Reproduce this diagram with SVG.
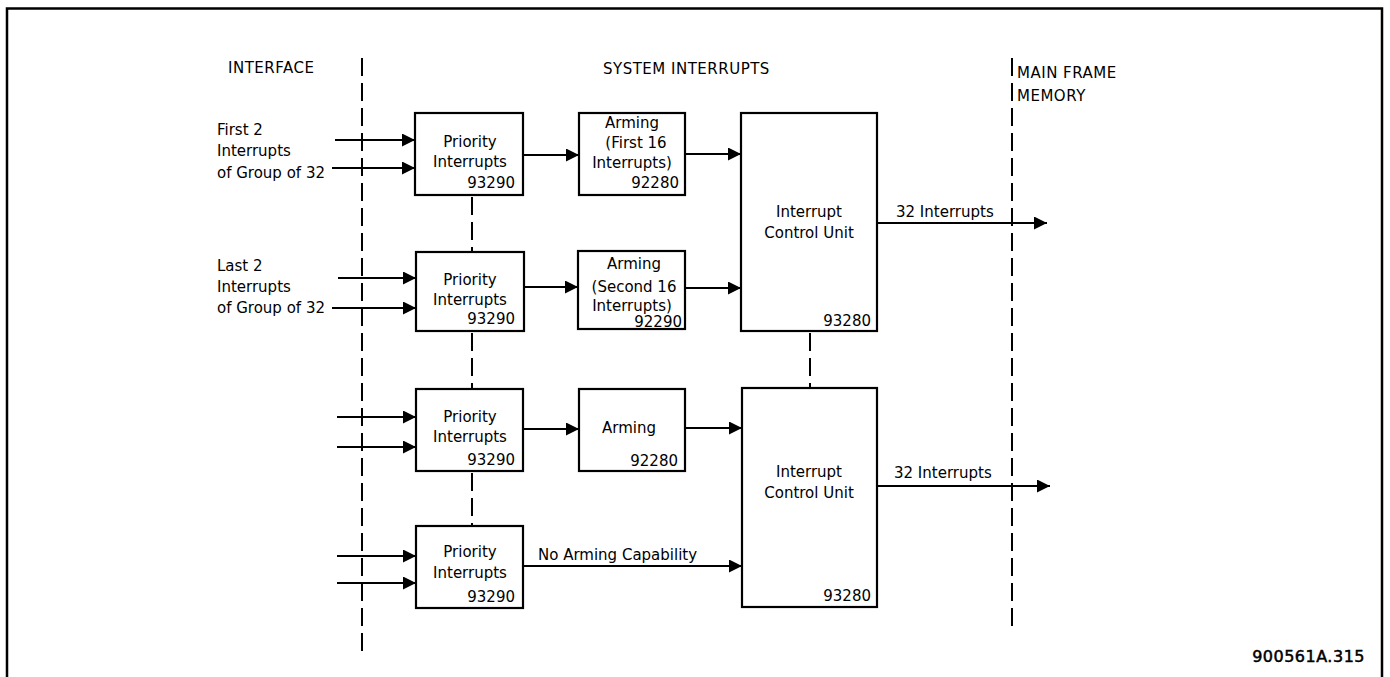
<svg xmlns="http://www.w3.org/2000/svg" width="1390" height="677" viewBox="0 0 1390 677">
<defs>
<marker id="ah" markerUnits="userSpaceOnUse" markerWidth="14" markerHeight="14" refX="13" refY="6.5" orient="auto">
<path d="M0,0 L13,6.5 L0,13 Z" fill="#000"/>
</marker>
<style>
text{font-family:"DejaVu Sans","Liberation Sans",sans-serif;font-size:15px;fill:#000}
.cap{letter-spacing:0.5px}
.c{text-anchor:middle}
.r{text-anchor:end}
.box{fill:#fff;stroke:#000;stroke-width:2.2}
.dash{stroke:#000;stroke-width:2;stroke-dasharray:18 7;fill:none}
.arr{stroke:#000;stroke-width:1.8;fill:none;marker-end:url(#ah)}
.id{font-size:16px;letter-spacing:0.5px;stroke:#000;stroke-width:0.5}
</style>
</defs>
<rect width="1390" height="677" fill="#fff"/>
<path d="M7,677 V8.5 H1382 V677" fill="none" stroke="#000" stroke-width="2.5"/>

<g id="boundaries">
<line class="dash" x1="362" y1="58" x2="362" y2="655"/>
<line class="dash" x1="1012" y1="58" x2="1012" y2="633"/>
<text class="cap" x="228" y="73">INTERFACE</text>
<text class="cap" x="603" y="74">SYSTEM INTERRUPTS</text>
<text class="cap" x="1017" y="78">MAIN FRAME</text>
<text class="cap" x="1017" y="101">MEMORY</text>
</g>

<g id="input-labels">
<text x="217" y="135">First 2</text>
<text x="217" y="156">Interrupts</text>
<text x="217" y="178">of Group of 32</text>
<text x="217" y="271">Last 2</text>
<text x="217" y="292">Interrupts</text>
<text x="217" y="313">of Group of 32</text>
</g>

<g id="connectors">
<line class="arr" x1="335" y1="140" x2="415" y2="140"/>
<line class="arr" x1="332" y1="168" x2="415" y2="168"/>
<line class="arr" x1="338" y1="278" x2="416" y2="278"/>
<line class="arr" x1="332" y1="308" x2="416" y2="308"/>
<line class="arr" x1="337" y1="417" x2="416" y2="417"/>
<line class="arr" x1="337" y1="447" x2="416" y2="447"/>
<line class="arr" x1="337" y1="556" x2="416" y2="556"/>
<line class="arr" x1="337" y1="583" x2="416" y2="583"/>
<line class="arr" x1="523" y1="155" x2="579" y2="155"/>
<line class="arr" x1="685" y1="154" x2="741" y2="154"/>
<line class="arr" x1="524" y1="287" x2="578" y2="287"/>
<line class="arr" x1="685" y1="288" x2="741" y2="288"/>
<line class="arr" x1="523" y1="429" x2="579" y2="429"/>
<line class="arr" x1="685" y1="428" x2="742" y2="428"/>
<line class="arr" x1="523" y1="566" x2="742" y2="566"/>
<line class="arr" x1="877" y1="223" x2="1047" y2="223"/>
<line class="arr" x1="877" y1="486" x2="1050" y2="486"/>
<line class="dash" x1="472" y1="197" x2="472" y2="252"/>
<line class="dash" x1="472" y1="333" x2="472" y2="389"/>
<line class="dash" x1="472" y1="473" x2="472" y2="526"/>
<line class="dash" x1="810" y1="333" x2="810" y2="388"/>
<text x="538" y="560">No Arming Capability</text>
<text x="896" y="217">32 Interrupts</text>
<text x="894" y="478">32 Interrupts</text>
</g>

<g id="priority1">
<rect class="box" x="415" y="113" width="108" height="82"/>
<text class="c" x="470" y="147">Priority</text>
<text class="c" x="470" y="167">Interrupts</text>
<text class="r" x="515" y="188">93290</text>
</g>
<g id="priority2">
<rect class="box" x="416" y="252" width="108" height="79"/>
<text class="c" x="470" y="285">Priority</text>
<text class="c" x="470" y="305">Interrupts</text>
<text class="r" x="515" y="324">93290</text>
</g>
<g id="priority3">
<rect class="box" x="416" y="389" width="107" height="82"/>
<text class="c" x="470" y="422">Priority</text>
<text class="c" x="470" y="442">Interrupts</text>
<text class="r" x="515" y="465">93290</text>
</g>
<g id="priority4">
<rect class="box" x="416" y="526" width="107" height="82"/>
<text class="c" x="470" y="557">Priority</text>
<text class="c" x="470" y="578">Interrupts</text>
<text class="r" x="515" y="602">93290</text>
</g>

<g id="arming1">
<rect class="box" x="579" y="113" width="106" height="82"/>
<text class="c" x="632" y="128">Arming</text>
<text class="c" x="636" y="148">(First 16</text>
<text class="c" x="632" y="168">Interrupts)</text>
<text class="r" x="679" y="188">92280</text>
</g>
<g id="arming2">
<rect class="box" x="578" y="251" width="107" height="78"/>
<text class="c" x="634" y="269">Arming</text>
<text class="c" x="634" y="292">(Second 16</text>
<text class="c" x="632" y="311">Interrupts)</text>
<text class="r" x="682" y="327">92290</text>
</g>
<g id="arming3">
<rect class="box" x="579" y="389" width="106" height="82"/>
<text class="c" x="629" y="433">Arming</text>
<text class="r" x="678" y="466">92280</text>
</g>

<g id="icu1">
<rect class="box" x="741" y="113" width="136" height="218"/>
<text class="c" x="809" y="217">Interrupt</text>
<text class="c" x="809" y="238">Control Unit</text>
<text class="r" x="871" y="326">93280</text>
</g>
<g id="icu2">
<rect class="box" x="742" y="388" width="135" height="219"/>
<text class="c" x="809" y="477">Interrupt</text>
<text class="c" x="809" y="498">Control Unit</text>
<text class="r" x="871" y="601">93280</text>
</g>

<text class="id r" x="1365" y="662">900561A.315</text>
</svg>
